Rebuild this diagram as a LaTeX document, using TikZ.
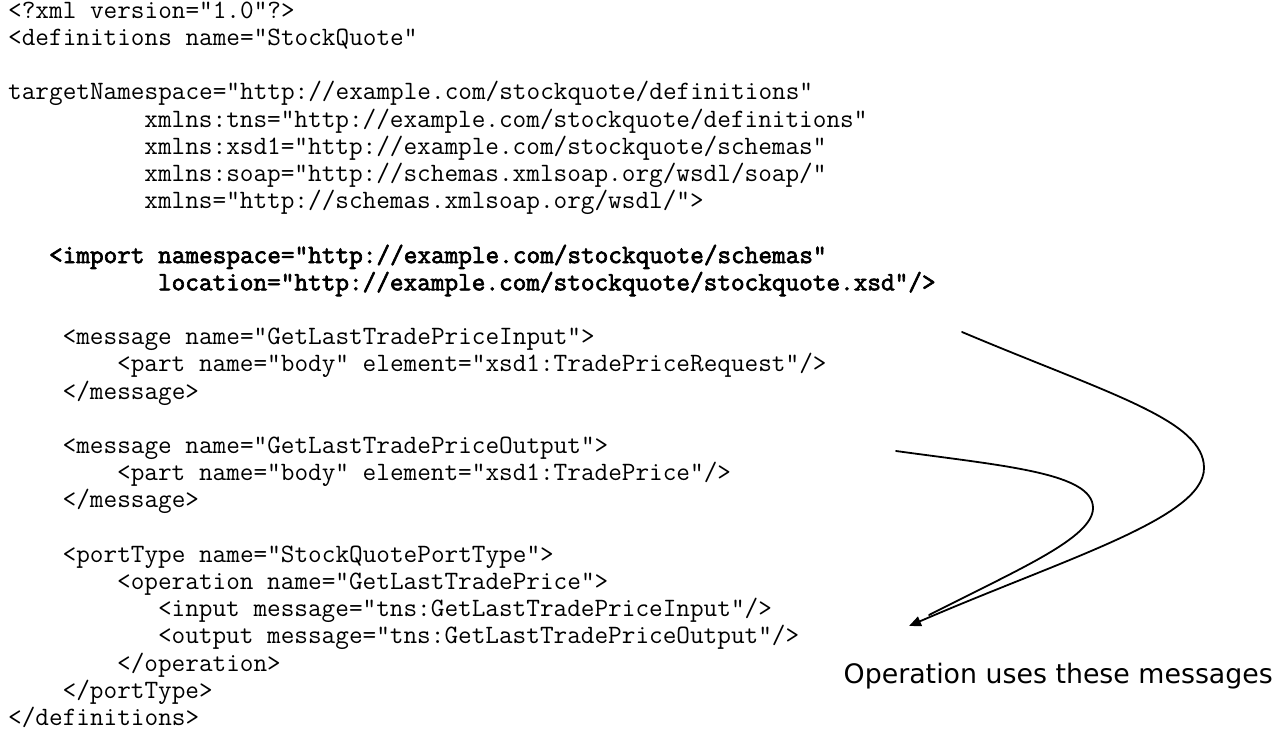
\documentclass[tikz,border=0pt]{standalone}
\usepackage{fontspec}
\newfontfamily\codefont{Latin Modern Mono}
\newfontfamily\codeboldfont{Latin Modern Mono}[FakeBold=2.5]
\newfontfamily\labelfont{DejaVu Sans}
\usetikzlibrary{arrows.meta}
\begin{document}
\begin{tikzpicture}[x=1pt,y=-1pt,
  code/.style={inner sep=0pt, anchor=base west, font=\codefont\fontsize{26.49}{27}\selectfont},
  codeb/.style={inner sep=0pt, anchor=base west, font=\codeboldfont\fontsize{26.49}{27}\selectfont},
  caption/.style={inner sep=0pt, anchor=base west, font=\labelfont\fontsize{26.8}{32}\selectfont},
  link/.style={line width=1.8pt, line cap=round},
]
\fill[white] (0,0) rectangle (1284,736);
\useasboundingbox (0,0) rectangle (1284,736);
% code lines
\node[code] (l1)  at (8,18.3)  {<?xml version="1.0"?>};
\node[code] (l2)  at (8,45.5)  {<definitions name="StockQuote"};
\node[code] (l4)  at (8,99.9)  {targetNamespace="http://example.com/stockquote/definitions"};
\node[code] (l5)  at (144.2,127.1) {xmlns:tns="http://example.com/stockquote/definitions"};
\node[code] (l6)  at (144.2,154.3) {xmlns:xsd1="http://example.com/stockquote/schemas"};
\node[code] (l7)  at (144.2,181.5) {xmlns:soap="http://schemas.xmlsoap.org/wsdl/soap/"};
\node[code] (l8)  at (144.2,208.7) {xmlns="http://schemas.xmlsoap.org/wsdl/">};
\node[codeb] (l10) at (48.86,263.1) {<import namespace="http://example.com/stockquote/schemas"};
\node[codeb] (l11) at (157.82,290.3) {location="http://example.com/stockquote/stockquote.xsd"/>};
\node[code] (l13) at (62.48,344.7) {<message name="GetLastTradePriceInput">};
\node[code] (l14) at (116.96,371.9) {<part name="body" element="xsd1:TradePriceRequest"/>};
\node[code] (l15) at (62.48,399.1) {</message>};
\node[code] (l17) at (62.48,453.5) {<message name="GetLastTradePriceOutput">};
\node[code] (l18) at (116.96,480.7) {<part name="body" element="xsd1:TradePrice"/>};
\node[code] (l19) at (62.48,507.9) {</message>};
\node[code] (l21) at (62.48,562.3) {<portType name="StockQuotePortType">};
\node[code] (l22) at (116.96,589.5) {<operation name="GetLastTradePrice">};
\node[code] (l23) at (157.82,616.7) {<input message="tns:GetLastTradePriceInput"/>};
\node[code] (l24) at (157.82,643.9) {<output message="tns:GetLastTradePriceOutput"/>};
\node[code] (l25) at (116.96,671.1) {</operation>};
\node[code] (l26) at (62.48,698.3) {</portType>};
\node[code] (l27) at (8,725.5) {</definitions>};
% caption
\node[caption] (lbl) at (843.5,683) {Operation uses these messages};
% connector ends
\coordinate (s1) at (962,332);
\coordinate (r1) at (1204,468);
\coordinate (t1) at (909,626);
\coordinate (s2) at (896,451);
\coordinate (r2) at (1093,508);
\coordinate (t2) at (929,615);
\draw[link,-{Triangle[length=12pt,width=10pt]}] (s1) .. controls (1109,394) and (1204,420) .. (r1)
  .. controls (1204,518) and (1065,558.5) .. (t1);
\draw[link] (s2) .. controls (1005,466) and (1093,473) .. (r2)
  .. controls (1093,538) and (1018,569.5) .. (t2);
\end{tikzpicture}
\end{document}
